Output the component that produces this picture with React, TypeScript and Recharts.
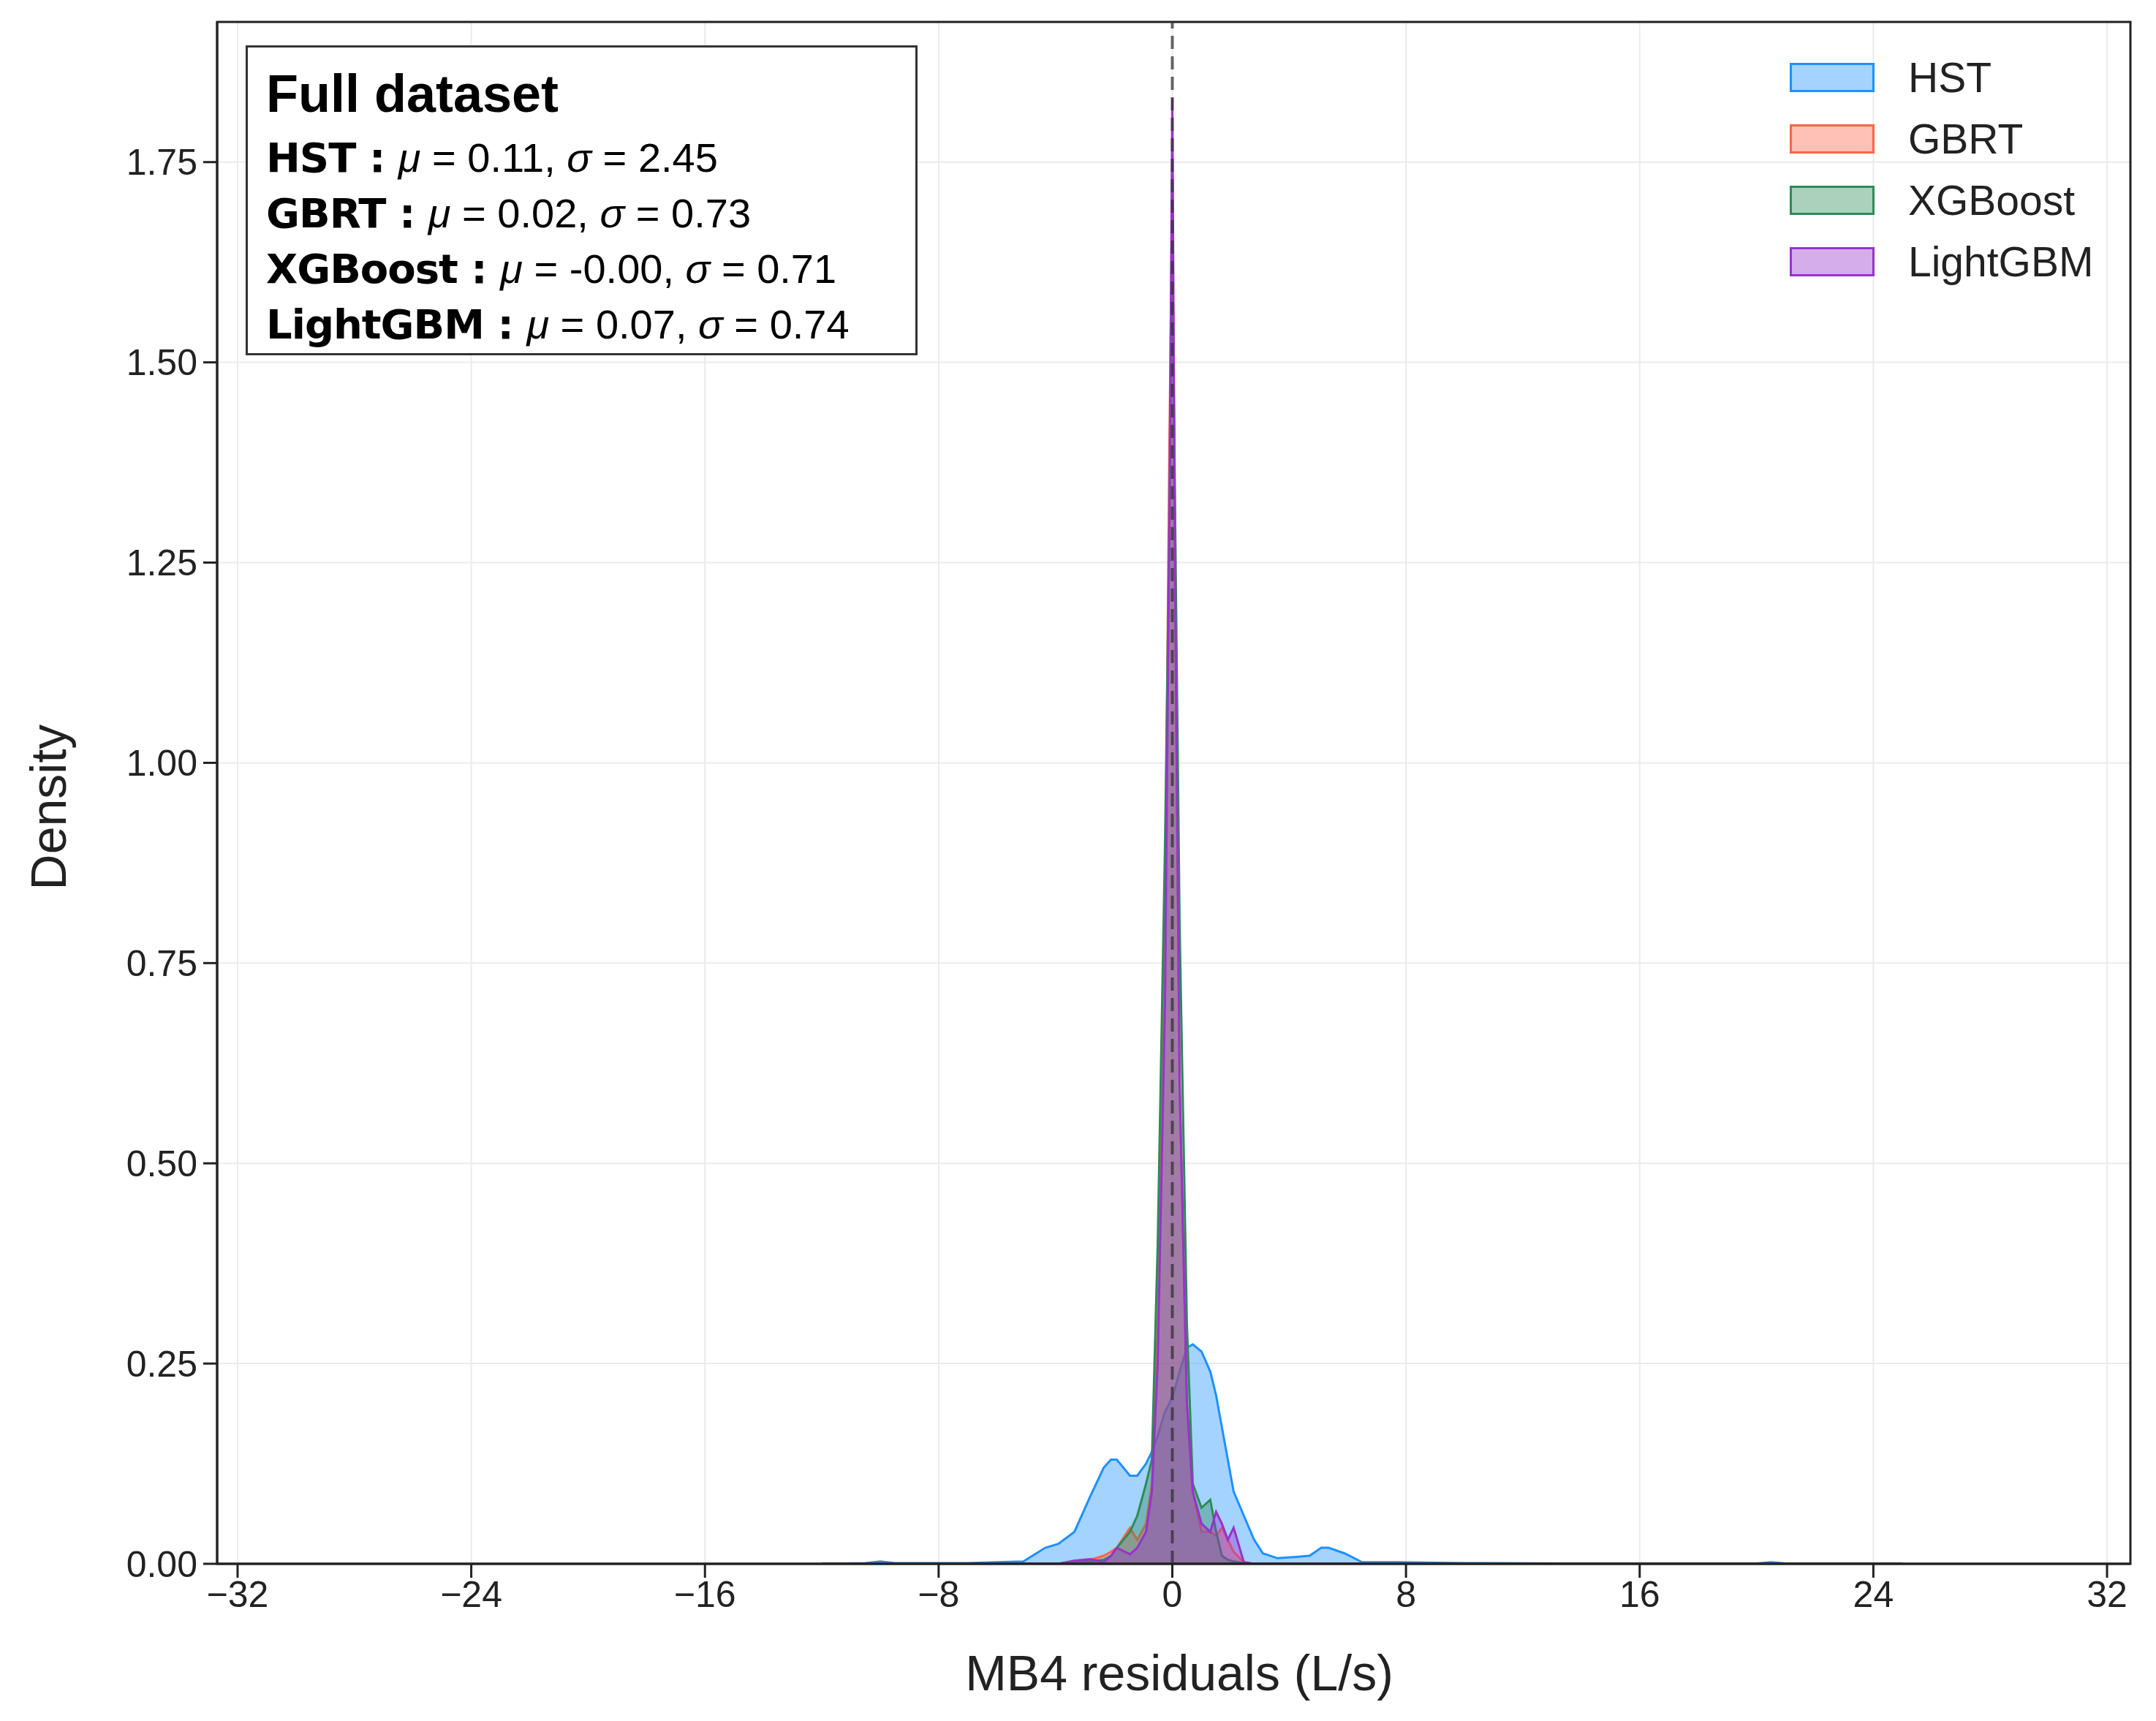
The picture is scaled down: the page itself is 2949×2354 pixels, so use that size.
import React from 'react';
import { ComposedChart, Area, XAxis, YAxis, CartesianGrid, ReferenceLine, ReferenceArea } from 'recharts';

const xs = [-12, -10.5, -10, -9.5, -8, -7, -6, -5.1, -4.35, -3.9, -3.35, -2.8, -2.35, -2.1, -1.9, -1.45, -1.2, -0.9, -0.7, -0.5, -0.25, -0.1, 0, 0.1, 0.25, 0.5, 0.7, 1.0, 1.3, 1.5, 1.7, 1.9, 2.1, 2.45, 2.8, 3.1, 3.6, 4.35, 4.7, 5.1, 5.35, 5.9, 6.5, 7.7, 10, 15, 20, 20.5, 21, 25];
const hst = [0, 0.001, 0.003, 0.001, 0.001, 0.001, 0.002, 0.003, 0.02, 0.025, 0.04, 0.085, 0.12, 0.13, 0.13, 0.11, 0.11, 0.125, 0.14, 0.16, 0.19, 0.2, 0.21, 0.22, 0.24, 0.27, 0.274, 0.265, 0.24, 0.21, 0.17, 0.13, 0.09, 0.06, 0.03, 0.013, 0.007, 0.009, 0.01, 0.02, 0.02, 0.013, 0.002, 0.002, 0.001, 0.0003, 0.0005, 0.002, 0.0005, 0];
const gbrt = [0, 0, 0, 0, 0, 0, 0, 0, 0, 0, 0.004, 0.005, 0.01, 0.015, 0.02, 0.045, 0.03, 0.05, 0.1, 0.3, 0.8, 1.4, 1.71, 1.2, 0.6, 0.2, 0.09, 0.04, 0.04, 0.035, 0.045, 0.03, 0.015, 0.002, 0, 0, 0, 0, 0, 0, 0, 0, 0, 0, 0, 0, 0, 0, 0, 0];
const xgb = [0, 0, 0, 0, 0, 0, 0, 0, 0, 0, 0.003, 0.003, 0.005, 0.01, 0.02, 0.04, 0.06, 0.1, 0.13, 0.4, 0.9, 1.3, 1.65, 1.3, 0.8, 0.3, 0.1, 0.07, 0.08, 0.04, 0.01, 0.005, 0.003, 0.001, 0, 0, 0, 0, 0, 0, 0, 0, 0, 0, 0, 0, 0, 0, 0, 0];
const lgbm = [0, 0, 0, 0, 0, 0, 0, 0, 0, 0, 0.004, 0.006, 0.002, 0.01, 0.02, 0.012, 0.02, 0.04, 0.09, 0.25, 0.7, 1.3, 1.83, 1.2, 0.6, 0.2, 0.09, 0.05, 0.04, 0.065, 0.05, 0.03, 0.045, 0.002, 0, 0, 0, 0, 0, 0, 0, 0, 0, 0, 0, 0, 0, 0, 0, 0];

const xTicks = [-32, -24, -16, -8, 0, 8, 16, 24, 32];
const yTicks = [0, 0.25, 0.5, 0.75, 1.0, 1.25, 1.5, 1.75];

const seriesNames = ['HST', 'GBRT', 'XGBoost', 'LightGBM'];
const colors = ['#1E90FF', '#FF6347', '#2E8B57', '#9932CC'];
const stats = [
  ['HST', '0.11', '2.45'],
  ['GBRT', '0.02', '0.73'],
  ['XGBoost', '-0.00', '0.71'],
  ['LightGBM', '0.07', '0.74'],
];

const data = xs.map((x, i) => ({ x, HST: hst[i], GBRT: gbrt[i], XGBoost: xgb[i], LightGBM: lgbm[i] }));

const font = '"Liberation Sans", Arial, sans-serif';
const W = 2933;
const H = 2340;

export default function App() {
  const tickStyle = { fontSize: 50, fill: '#222', fontFamily: font };
  return (
    <div style={{ position: 'relative', width: W, height: H, fontFamily: font, background: '#fff' }}>
      <ComposedChart width={W} height={H} data={data} margin={{ top: 22, right: 27, bottom: 0, left: 0 }}>
        <CartesianGrid stroke="#ebebeb" strokeWidth={2} />
        <XAxis
          dataKey="x"
          type="number"
          domain={[-32.7, 32.8]}
          ticks={xTicks}
          allowDataOverflow
          height={209}
          tick={tickStyle}
          tickFormatter={(v: number) => String(v).replace('-', '\u2212')}
          tickSize={19}
          tickMargin={4}
          stroke="#222"
          strokeWidth={3}
        />
        <YAxis
          type="number"
          domain={[0, 1.925]}
          ticks={yTicks}
          allowDataOverflow
          width={289}
          tick={tickStyle}
          tickFormatter={(v: number) => v.toFixed(2)}
          tickSize={19}
          tickMargin={8}
          stroke="#222"
          strokeWidth={3}
        />
        {seriesNames.map((n, i) => (
          <Area
            key={n}
            dataKey={n}
            type="linear"
            stroke={colors[i]}
            strokeWidth={3}
            fill={colors[i]}
            fillOpacity={0.4}
            isAnimationActive={false}
            dot={false}
            activeDot={false}
          />
        ))}
        <ReferenceLine x={0} stroke="#333" strokeOpacity={0.75} strokeWidth={4} strokeDasharray="18 10" />
        <ReferenceArea x1={-32.7} x2={32.8} y1={0} y2={1.925} fill="none" stroke="#222" strokeWidth={3} ifOverflow="visible" />
      </ComposedChart>

      {/* stats box */}
      <div style={{ position: 'absolute', left: 328, top: 54, width: 913, height: 418, border: '3px solid #333', background: '#fff' }}>
        <div style={{ position: 'absolute', left: 25, top: 22, fontSize: 72, fontWeight: 'bold', color: '#000', fontFamily: font }}>Full dataset</div>
        {stats.map((s, i) => (
          <div key={s[0]} style={{ position: 'absolute', left: 25, top: 118 + i * 76, fontSize: 56, color: '#000', whiteSpace: 'nowrap' }}>
            <span style={{ fontFamily: '"DejaVu Sans", sans-serif', fontWeight: 'bold', letterSpacing: -1 }}>{s[0]} : </span>
            <span style={{ fontFamily: font }}> <i>μ</i> = {s[1]}, <i>σ</i> = {s[2]}</span>
          </div>
        ))}
      </div>

      {/* legend */}
      <div style={{ position: 'absolute', left: 2440, top: 56 }}>
        {seriesNames.map((n, i) => (
          <div key={n} style={{ display: 'flex', alignItems: 'center', height: 84 }}>
            <div style={{ width: 116, height: 40, boxSizing: 'border-box', border: `3px solid ${colors[i]}`, background: colors[i] + '66' }} />
            <div style={{ marginLeft: 46, fontSize: 57, color: '#222', fontFamily: font }}>{n}</div>
          </div>
        ))}
      </div>

      {/* axis titles */}
      <div style={{ position: 'absolute', left: 1605, top: 2280, transform: 'translate(-50%, -50%)', fontSize: 68, color: '#222', whiteSpace: 'nowrap' }}>MB4 residuals (L/s)</div>
      <div style={{ position: 'absolute', left: 58, top: 1096, transform: 'translate(-50%, -50%) rotate(-90deg)', fontSize: 68, color: '#222', whiteSpace: 'nowrap' }}>Density</div>
    </div>
  );
}
